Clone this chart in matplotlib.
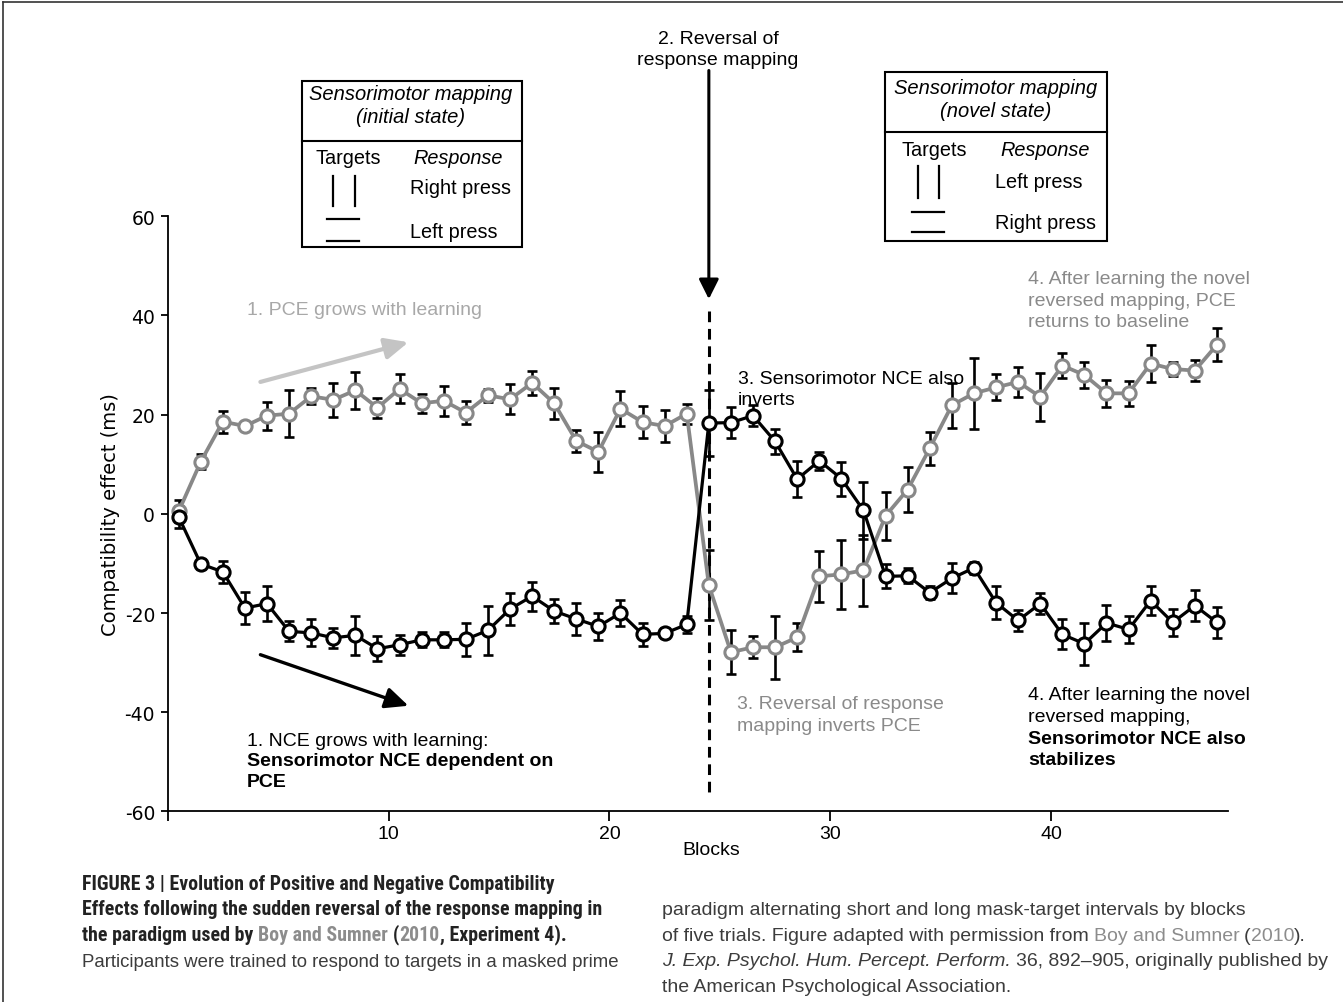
import numpy as np
import matplotlib
matplotlib.use("Agg")
import matplotlib.pyplot as plt
from matplotlib import font_manager as fm
from matplotlib.lines import Line2D
from matplotlib.patches import Rectangle

# ---------------- data ----------------
blocks = list(range(1, 49))
pce = [0.5, 10.5, 18.6, 17.7, 19.8, 20.2, 23.7, 23.0, 24.9, 21.4,
       25.2, 22.3, 22.8, 20.4, 23.9, 23.1, 26.4, 22.3, 14.7, 12.5,
       21.2, 18.5, 17.7, 20.2, -14.4, -27.9, -26.9, -26.9, -24.9, -12.6,
       -12.2, -11.4, -0.4, 4.9, 13.2, 21.9, 24.3, 25.5, 26.6, 23.6,
       29.9, 28.0, 24.3, 24.3, 30.3, 29.2, 28.9, 34.1]
pce_err = [2.2, 1.5, 2.2, 0.8, 2.8, 4.8, 1.6, 3.4, 3.7, 2.0,
           2.9, 1.9, 3.0, 2.3, 1.3, 3.0, 2.4, 3.1, 2.3, 4.0,
           3.5, 3.2, 3.3, 2.0, 7.1, 4.4, 2.2, 6.4, 2.8, 5.1,
           6.9, 7.2, 4.9, 4.5, 3.3, 4.5, 7.1, 2.6, 3.0, 4.9,
           2.6, 2.7, 2.7, 2.5, 3.8, 1.4, 2.2, 3.3]
nce = [-0.6, -10.1, -11.7, -19.0, -18.1, -23.7, -24.0, -25.0, -24.5, -27.2,
       -26.4, -25.4, -25.4, -25.3, -23.5, -19.2, -16.6, -19.6, -21.2, -22.7,
       -20.0, -24.3, -24.1, -22.3, 18.3, 18.4, 19.8, 14.6, 7.0, 10.7,
       7.1, 0.7, -12.6, -12.5, -15.9, -13.0, -10.9, -17.9, -21.5, -18.1,
       -24.3, -26.2, -22.0, -23.3, -17.5, -21.9, -18.5, -21.9]
nce_err = [2.2, 1.0, 2.2, 3.2, 3.5, 2.0, 2.7, 2.0, 3.9, 2.5,
           2.0, 1.5, 1.5, 3.3, 4.9, 3.2, 2.9, 2.4, 3.2, 2.8,
           2.6, 2.3, 1.0, 1.8, 6.7, 3.2, 2.1, 2.6, 3.7, 1.8,
           3.4, 5.8, 2.4, 1.5, 1.3, 3.0, 1.2, 3.4, 2.1, 2.1,
           3.0, 4.2, 3.7, 2.8, 2.9, 2.7, 3.2, 3.2]
xticks = [0, 10, 20, 30, 40]
xticklabels = ["", "10", "20", "30", "40"]
yticks = [-60, -40, -20, 0, 20, 40, 60]
reversal_block = 25

# ---------------- helpers ----------------
W, H = 1343, 1003
def has_font(name):
    try:
        fm.findfont(fm.FontProperties(family=name), fallback_to_default=False)
        return True
    except Exception:
        return False

SANS = "Liberation Sans"
NARROW = None
for cand in ["Liberation Sans Narrow", "Roboto Condensed", "Open Sans Condensed",
             "Noto Sans Condensed", "DejaVu Sans Condensed"]:
    if has_font(cand):
        NARROW = cand
        break
VER = "DejaVu Sans"

GRAY_LINE = "#888888"
GRAY_TXT = "#8a8a8a"
LIGHT_TXT = "#a8a8a8"

fig = plt.figure(figsize=(W / 100, H / 100), dpi=100)

def fx(x):
    return x / W
def fy(y):
    return 1 - y / H

ax = fig.add_axes([fx(167.6), fy(812.4), (1228 - 167.6) / W, (812.4 - 217.3) / H])

x = np.array(blocks) - 0.5

# error bars (black) under markers
ax.errorbar(x, pce, yerr=pce_err, fmt="none", ecolor="black", elinewidth=1.9,
            capsize=3.6, capthick=1.9, zorder=2)
ax.errorbar(x, nce, yerr=nce_err, fmt="none", ecolor="black", elinewidth=1.9,
            capsize=3.6, capthick=1.9, zorder=2)
ax.plot(x, pce, color=GRAY_LINE, lw=2.7, marker="o", ms=9.5, mfc="white",
        mec=GRAY_LINE, mew=2.2, zorder=3, clip_on=False)
ax.plot(x, nce, color="black", lw=2.3, marker="o", ms=9.5, mfc="white",
        mec="black", mew=2.2, zorder=4, clip_on=False)

# dashed reversal line
rx = reversal_block - 0.5
ax.plot([rx, rx], [41, -56], color="black", lw=2.2, linestyle=(0, (3.5, 2.2)),
        zorder=1)

ax.set_xlim(0, 48)
ax.set_ylim(-60, 60)
for s in ["top", "right"]:
    ax.spines[s].set_visible(False)
for s in ["left", "bottom"]:
    ax.spines[s].set_linewidth(1.3)
ax.set_xticks(xticks)
ax.set_xticklabels(xticklabels, fontfamily=SANS, fontsize=14)
ax.set_yticks(yticks)
ax.set_yticklabels([str(v) for v in yticks], fontfamily=VER, fontsize=13.5)
ax.tick_params(axis="x", direction="out", length=7, width=1.3, pad=3)
ax.tick_params(axis="y", direction="out", length=5, width=1.3, pad=4)
ax.set_ylabel("Compatibility effect (ms)", fontfamily=VER, fontsize=14, labelpad=3)
fig.text(fx(711), fy(851), "Blocks", fontfamily=SANS, fontsize=14,
         ha="center", va="center")

# arrows
ax.annotate("", xy=(rx, 43.3), xytext=(rx, 89.4),
            arrowprops=dict(arrowstyle="-|>,head_length=0.6,head_width=0.3",
                            color="black", lw=2.2, mutation_scale=20,
                            shrinkA=0, shrinkB=0), annotation_clip=False)
ax.annotate("", xy=(10.9, 34.6), xytext=(4.2, 26.6),
            arrowprops=dict(arrowstyle="-|>,head_length=0.7,head_width=0.32",
                            color="#c4c4c4", lw=3.0, mutation_scale=20,
                            shrinkA=0, shrinkB=0), annotation_clip=False)
ax.annotate("", xy=(10.9, -38.7), xytext=(4.2, -28.4),
            arrowprops=dict(arrowstyle="-|>,head_length=0.7,head_width=0.32",
                            color="black", lw=2.4, mutation_scale=20,
                            shrinkA=0, shrinkB=0), annotation_clip=False)

# plot annotations
def t(xp, yp, s, **kw):
    d = dict(fontfamily=SANS, fontsize=14, ha="left", va="center", linespacing=1.32)
    d.update(kw)
    return fig.text(fx(xp), fy(yp), s, **d)

t(718, 50, "2. Reversal of\nresponse mapping", ha="center")
t(247, 311, "1. PCE grows with learning", color=LIGHT_TXT)
t(247, 742, "1. NCE grows with learning:")
t(247, 772, "Sensorimotor NCE dependent on\nPCE", fontweight="bold")
t(738, 390, "3. Sensorimotor NCE also\ninverts")
t(737, 715.5, "3. Reversal of response\nmapping inverts PCE", color=GRAY_TXT)
t(1028, 301, "4. After learning the novel\nreversed mapping, PCE\nreturns to baseline",
  color=GRAY_TXT)
t(1028, 706.5, "4. After learning the novel\nreversed mapping,")
t(1028, 750, "Sensorimotor NCE also\nstabilizes", fontweight="bold")

# mapping boxes
def box(x0, y0, x1, ydiv, y1):
    fig.add_artist(Rectangle((fx(x0), fy(y1)), fx(x1) - fx(x0), fy(y0) - fy(y1),
                             transform=fig.transFigure, fill=False, lw=1.5,
                             edgecolor="black"))
    fig.add_artist(Line2D([fx(x0), fx(x1)], [fy(ydiv), fy(ydiv)],
                          transform=fig.transFigure, lw=1.5, color="black"))

def seg(x0, y0, x1, y1):
    fig.add_artist(Line2D([fx(x0), fx(x1)], [fy(y0), fy(y1)],
                          transform=fig.transFigure, lw=1.6, color="black"))

box(301.7, 81.7, 521.7, 141.7, 248.3)
t(411, 106, "Sensorimotor mapping\n(initial state)", ha="center", style="italic",
  fontsize=14.5, linespacing=1.22)
t(348, 158, "Targets", ha="center", fontsize=14.3)
t(458, 158, "Response", ha="center", style="italic", fontsize=14.3)
seg(333, 177, 333, 207)
seg(355, 177, 355, 207)
seg(327, 220, 359, 220)
seg(327, 242, 359, 242)
t(410, 189, "Right press", fontsize=14.3)
t(410, 232, "Left press", fontsize=14.3)

box(885, 73.3, 1107.3, 133.3, 241.7)
t(996, 100, "Sensorimotor mapping\n(novel state)", ha="center", style="italic",
  fontsize=14.5, linespacing=1.22)
t(934, 150.7, "Targets", ha="center", fontsize=14.3)
t(1045, 150.7, "Response", ha="center", style="italic", fontsize=14.3)
seg(918, 167, 918, 199)
seg(939, 167, 939, 199)
seg(912, 212.7, 944, 212.7)
seg(912, 233.3, 944, 233.3)
t(995, 182.7, "Left press", fontsize=14.3)
t(995, 223.3, "Right press", fontsize=14.3)

# frame
fig.add_artist(Line2D([fx(3), 1.0], [fy(3), fy(3)], transform=fig.transFigure,
                      lw=1.2, color="#333333"))
fig.add_artist(Line2D([fx(3), fx(3)], [fy(3), 0.0], transform=fig.transFigure,
                      lw=1.2, color="#333333"))

# caption (rich text lines)
CAP_BLACK = "#222222"
CAP_NORM = "#3c3c3c"
CAP_GRAY = "#8c8c8c"

def rich(xp, yp, segs, size):
    prev = None
    for txt, col, kw in segs:
        lead = len(txt) - len(txt.lstrip(" "))
        txt = txt.lstrip(" ")
        props = dict(fontsize=size, color=col)
        props.update(kw)
        if prev is None:
            prev = fig.text(fx(xp), fy(yp), txt, ha="left", va="baseline", **props)
        else:
            prev = ax.annotate(txt, xy=(1, 0), xycoords=prev,
                               xytext=(lead * size * 0.25, 0),
                               textcoords="offset points", ha="left", va="bottom",
                               annotation_clip=False, **props)

if NARROW:
    B = dict(fontweight="bold", fontfamily=NARROW)
    bsize = 14.3
else:
    B = dict(fontweight="bold", fontfamily=SANS)
    bsize = 11.8
N = dict(fontfamily=SANS)
I = dict(style="italic", fontfamily=SANS)
nsize = 14.0
rich(82, 890, [("FIGURE 3 | Evolution of Positive and Negative Compatibility", CAP_BLACK, B)], bsize)
rich(82, 915.5, [("Effects following the sudden reversal of the response mapping in", CAP_BLACK, B)], bsize)
rich(82, 941, [("the paradigm used by", CAP_BLACK, B), (" Boy and Sumner", CAP_GRAY, B),
               (" (", CAP_BLACK, B), ("2010", CAP_GRAY, B),
               (", Experiment 4).", CAP_BLACK, B)], bsize)
rich(82, 967, [("Participants were trained to respond to targets in a masked prime", CAP_NORM, N)], 13.4)
rich(662, 915.5, [("paradigm alternating short and long mask-target intervals by blocks", CAP_NORM, N)], nsize)
rich(662, 941, [("of five trials. Figure adapted with permission from", CAP_NORM, N),
                (" Boy and Sumner", CAP_GRAY, N), (" (", CAP_NORM, N),
                ("2010", CAP_GRAY, N), (").", CAP_NORM, N)], nsize)
rich(662, 966.5, [("J. Exp. Psychol. Hum. Percept. Perform.", CAP_NORM, I),
                  (" 36, 892–905, originally published by", CAP_NORM, N)], nsize)
rich(662, 992, [("the American Psychological Association.", CAP_NORM, N)], nsize)

fig.savefig("out.png", dpi=100)
